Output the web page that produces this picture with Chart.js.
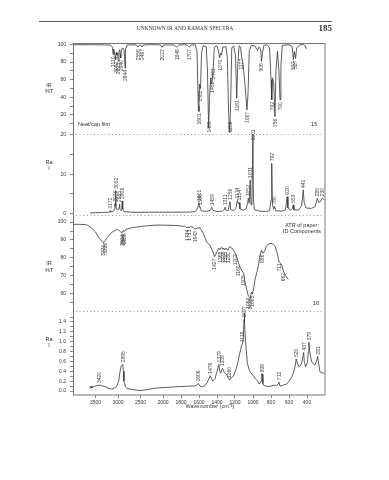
<!DOCTYPE html>
<html><head><meta charset="utf-8">
<script src="https://cdn.jsdelivr.net/npm/chart.js@4"></script>
<style>html,body{margin:0;padding:0;background:#fff}canvas{display:block}</style>
</head><body>
<canvas id="c" width="389" height="480"></canvas>
<script>
// ---------- DATA ----------
const xTickWn = [3500,3000,2500,2000,1800,1600,1400,1200,1000,800,600,400];

const ir15Wn = [4000,3900,3600,3300,3160,3125,3110,3098,3082,3065,3052,3040,3026,3010,2993,2978,2960,2950,2940,2928,2905,2870,2856,2844,2832,2800,2700,2600,2556,2525,2490,2467,2440,2300,2100,2050,2022,1995,1950,1880,1848,1825,1760,1730,1707,1690,1640,1622,1608,1601,1594,1583,1572,1555,1520,1506,1493,1483,1470,1460,1452,1441,1430,1400,1385,1370,1360,1350,1335,1300,1285,1270,1258,1248,1236,1215,1195,1181,1170,1155,1138,1127,1110,1090,1067,1055,1042,1020,980,950,935,915,906,895,880,840,815,800,792,784,770,756,745,728,712,700,690,675,600,565,552,540,527,515,480,440,420,405];
const ir15T  = [99.6,99.8,99.8,99.6,99.2,97,88.6,95,92,86,82.9,91,88,90,81,92,94,89,84.8,92,96,95,88,73.3,95,99.3,99.7,99.6,97,99.3,99,97.3,99.4,99.8,99.6,99.4,96.8,99.3,99.6,99.4,97,99.5,99.7,99.3,97,99.5,99.6,92,30,24,55,50,90,98.5,97.5,70,5,40,62,55,60,75,97,98.5,93,85,90,88,97,97.5,85,20,0,35,96,98.5,88,39,75,98.5,97,86,78,55,25.7,45,92,99,98.5,93,97,95,81,90,99,99.5,96,60,37,62,56,18,70,92,70,37,75,99,99.6,98,83,92,84,96,99.8,99.8,98.5,95];
const ir15Labels = [3110,3052,2993,2940,2844,2556,2467,2022,1848,1707,1601,1583,1493,1452,1441,1370,1258,1181,1127,1067,906,792,756,700,552,527];

const ra15Wn = [3620,3500,3350,3200,3180,3172,3160,3100,3080,3070,3062,3052,3042,3020,2990,2975,2965,2955,2930,2915,2906,2895,2870,2800,2600,2400,2200,2000,1800,1700,1640,1615,1601,1592,1586,1575,1520,1475,1459,1445,1400,1340,1320,1311,1300,1275,1262,1256,1248,1215,1190,1174,1165,1154,1145,1110,1075,1060,1052,1042,1031,1022,1012,1001,995,985,930,860,815,800,792,785,770,760,748,680,640,628,620,612,580,560,553,545,490,460,448,441,432,410,350,310,295,285,270,245,230,218,210];
const ra15I  = [0.15,0.2,0.25,0.35,0.45,0.7,0.45,0.6,1.2,2.5,1.8,5.8,1.4,1.0,1.1,1.6,2.4,1.0,0.8,1.5,3.2,1.2,0.5,0.4,0.3,0.32,0.35,0.33,0.35,0.38,0.5,1.4,2.7,1.5,1.6,0.7,0.55,0.8,1.6,0.8,0.5,0.6,1.0,1.6,0.8,0.8,2.4,3.0,1.0,0.7,1.3,3.3,2.6,2.8,1.2,0.8,1.2,2.8,3.9,2.6,8.5,2.2,2.4,20,3.5,1.0,0.6,0.5,0.7,3.5,12.8,2.5,1.1,1.8,0.7,0.6,0.9,2.8,4.3,1.4,0.9,1.3,2.2,0.9,0.9,2.0,4.5,6.0,2.8,1.4,1.3,1.8,3.0,3.9,2.8,3.2,3.9,3.6,3.4];
const ra15Labels = [3172,3070,3052,2965,2906,1601,1586,1459,1311,1256,1174,1154,1052,1031,1001,792,760,620,553,441,285,230];

const ir16Wn = [4000,3850,3700,3600,3500,3420,3331,3300,3286,3250,3150,3060,3015,2970,2950,2914,2905,2896,2880,2855,2820,2700,2500,2300,2140,1950,1820,1795,1760,1734,1720,1713,1690,1660,1643,1620,1590,1560,1515,1478,1450,1427,1400,1380,1368,1350,1335,1325,1315,1300,1280,1260,1235,1203,1180,1160,1140,1105,1090,1070,1053,1042,1030,1018,1010,1005,990,978,960,941,922,905,896,885,867,850,830,800,770,756,730,711,695,681,670,662,650,630,610];
const ir16T  = [98.7,98.7,98.5,97,94.5,91,88.5,89,89.6,91,94,95.5,95.9,95.2,94.6,94.1,94.6,94.4,95.2,94.9,96,96.8,97.5,98,98.3,98.2,98,97.6,97.7,96.8,97.2,96.9,97.4,96.9,96,96.6,96.8,94.5,89,87,84,80.7,83.5,85.5,84.6,86,84.8,85.5,84.5,85.5,84.3,86.3,85.5,83.2,80.5,77,74.5,71.5,67,62.5,59,58.5,57.6,61,60.5,60.2,64,67.8,71.5,75.2,81.7,84.4,83,82.8,84.4,86.5,87.8,88.2,87.5,86.7,82.6,78,77,76.1,74,72.8,71.5,69.6,68.1];
const ir16Labels = [3331,3286,2914,2896,2855,1734,1713,1643,1427,1368,1335,1315,1280,1203,1160,1105,1053,1030,1005,896,711,662];

const ra16Wn = [3620,3600,3580,3550,3500,3420,3380,3289,3200,3140,3060,3016,2980,2956,2930,2895,2880,2867,2830,2807,2700,2600,2511,2400,2300,2140,2000,1900,1811,1700,1650,1625,1606,1590,1570,1540,1510,1497,1476,1460,1448,1422,1400,1379,1372,1359,1345,1339,1320,1293,1270,1260,1235,1219,1200,1181,1165,1152,1135,1126,1118,1108,1100,1097,1093,1082,1063,1045,1033,1000,978,950,930,910,903,898,890,885,860,830,800,756,735,719,712,700,680,650,626,600,570,545,533,520,505,489,470,455,437,430,415,396,385,379,370,348,330,311,295,281,270,256,235,211];
const ra16I  = [0.05,0.1,0.06,0.09,0.1,0.12,0.11,0.09,0.05,0.04,0.07,0.12,0.22,0.39,0.5,0.54,0.4,0.2,0.08,0.06,0.03,0.02,0.01,0.02,0.04,0.06,0.07,0.08,0.09,0.1,0.1,0.12,0.15,0.1,0.09,0.1,0.17,0.22,0.31,0.25,0.2,0.25,0.4,0.54,0.42,0.36,0.44,0.46,0.38,0.33,0.26,0.22,0.28,0.3,0.38,0.49,0.6,0.73,0.85,0.93,0.95,1.07,1.45,1.58,1.4,0.99,0.56,0.45,0.39,0.32,0.26,0.2,0.14,0.2,0.36,0.34,0.15,0.12,0.1,0.09,0.1,0.12,0.11,0.15,0.18,0.1,0.11,0.13,0.14,0.2,0.28,0.4,0.49,0.65,0.55,0.49,0.52,0.6,0.78,0.6,0.49,0.58,0.8,0.99,0.8,0.59,0.55,0.53,0.6,0.7,0.55,0.39,0.37,0.36];
const ra16Labels = [3420,2895,1606,1476,1379,1339,1260,1118,1097,898,712,520,437,379,281];

const y1Major = [20,40,60,80,100], y1Minor = [10,30,50,70,90];
const y2Major = [0,10,20],          y2Minor = [5,15];
const y3Major = [60,70,80,90,100],  y3Minor = [55,65,75,85,95];
const y4Major = [0,0.2,0.4,0.6,0.8,1.0,1.2,1.4], y4Minor = [0.1,0.3,0.5,0.7,0.9,1.1,1.3,1.5];

// ---------- helpers ----------
const tx  = w => w > 2000 ? 2000 + (w - 2000) / 2 : w;   // axis break at 2000 cm-1
const inv = t => t > 2000 ? 2000 + (t - 2000) * 2 : t;
const pts = (wn, v) => wn.map((w, i) => ({x: tx(w), y: v[i]}));
const FONT = {family: '"Liberation Sans", Arial, sans-serif', size: 5};
const AXC = '#555';

function yScale(min, max, weight, majors, minors, fmt) {
  return {
    type: 'linear', position: 'left', stack: 'panels', stackWeight: weight,
    min, max,
    afterBuildTicks: s => { s.ticks = majors.concat(minors).map(v => ({value: v})); },
    afterFit: s => { s.width = 73; },
    ticks: {autoSkip: false, font: FONT, color: '#333', padding: 4,
            callback: v => majors.some(m => Math.abs(m - v) < 1e-9) ? fmt(v) : ''},
    grid: {drawOnChartArea: false, drawTicks: true, tickLength: 3, color: AXC, lineWidth: 0.7},
    border: {display: false}
  };
}

const lineDs = (data, axis) => ({data, yAxisID: axis, borderColor: '#353535', borderWidth: 0.8,
  pointRadius: 0, tension: 0, fill: false});

function interp(wn, v, w) {
  for (let i = 0; i < wn.length - 1; i++) {
    const a = wn[i], b = wn[i + 1];
    if ((w <= a && w >= b)) { const f = (a - w) / (a - b || 1); return v[i] + f * (v[i + 1] - v[i]); }
  }
  return v[v.length - 1];
}

const peakSets = [
  {axis: 'y1', wn: ir15Wn, v: ir15T, labels: ir15Labels, down: true},
  {axis: 'y2', wn: ra15Wn, v: ra15I, labels: ra15Labels, down: false},
  {axis: 'y3', wn: ir16Wn, v: ir16T, labels: ir16Labels, down: true},
  {axis: 'y4', wn: ra16Wn, v: ra16I, labels: ra16Labels, down: false}
];

const decor = {
  id: 'decor',
  afterDraw(chart) {
    const ctx = chart.ctx, a = chart.chartArea, xs = chart.scales.x;
    ctx.save();
    ctx.strokeStyle = '#666'; ctx.lineWidth = 0.9;
    ctx.strokeRect(a.left + 0.5, a.top + 0.5, a.right - a.left - 0.5, a.bottom - a.top - 0.5);
    ctx.setLineDash([1, 2.6]); ctx.strokeStyle = '#777'; ctx.lineWidth = 0.8;
    ['y2', 'y3', 'y4'].forEach(id => {
      const y = Math.round(chart.scales[id].top) + 0.5;
      ctx.beginPath(); ctx.moveTo(a.left + 3, y); ctx.lineTo(a.right - 1, y); ctx.stroke();
    });
    ctx.setLineDash([]);
    ctx.fillStyle = '#444'; ctx.font = '5px "Liberation Sans", Arial, sans-serif';
    ctx.textBaseline = 'middle';
    peakSets.forEach(ps => {
      const ys = chart.scales[ps.axis];
      ps.labels.forEach(w => {
        const t = String(w), tw = ctx.measureText(t).width;
        const px = xs.getPixelForValue(tx(w)) + 0.5;
        let py = ys.getPixelForValue(interp(ps.wn, ps.v, w));
        ctx.save(); ctx.translate(px, 0); ctx.rotate(-Math.PI / 2);
        if (ps.down) {
          let top = py + 2; if (top + tw > ys.bottom - 1) top = ys.bottom - 1 - tw;
          ctx.textAlign = 'right'; ctx.fillText(t, -top, 0);
        } else {
          let bot = py - 2; if (bot - tw < ys.top - 4) bot = ys.top - 4 + tw;
          ctx.textAlign = 'left'; ctx.fillText(t, -bot, 0);
        }
        ctx.restore();
      });
    });
    ctx.fillStyle = '#333'; ctx.textAlign = 'center'; ctx.textBaseline = 'middle';
    ctx.font = '5.5px "Liberation Sans", Arial, sans-serif';
    [['IR', 85], ['%T', 91], ['Ra', 162], ['I', 168], ['IR', 263], ['%T', 270], ['Ra', 339], ['I', 345]]
      .forEach(([s, y]) => ctx.fillText(s, 49, y));
    ctx.textAlign = 'left';
    ctx.fillText('Neat/cap film', 78, 124);
    ctx.textAlign = 'center';
    ctx.fillText('ATR of paper:', 302, 225);
    ctx.fillText('ID Components', 302, 231);
    ctx.fillText('Wavenumber (cm\u207B\u00B9)', 210, 406);
    ctx.font = '6px "Liberation Sans", Arial, sans-serif';
    ctx.fillText('15', 314, 124);
    ctx.fillText('16', 316, 303);
    ctx.strokeStyle = '#333'; ctx.lineWidth = 0.8;
    ctx.beginPath(); ctx.moveTo(39, 21.5); ctx.lineTo(332, 21.5); ctx.stroke();
    ctx.fillStyle = '#333';
    ctx.font = '5.5px "Liberation Serif", "Times New Roman", serif';
    ctx.fillText('UNKNOWN IR AND RAMAN SPECTRA', 185, 28.5);
    ctx.textAlign = 'right';
    ctx.font = 'bold 9px "Liberation Serif", "Times New Roman", serif';
    ctx.fillText('185', 332, 28.5);
    ctx.restore();
  }
};

new Chart(document.getElementById('c'), {
  type: 'line',
  data: {datasets: [
    lineDs(pts(ir15Wn, ir15T), 'y1'),
    lineDs(pts(ra15Wn, ra15I), 'y2'),
    lineDs(pts(ir16Wn, ir16T), 'y3'),
    lineDs(pts(ra16Wn, ra16I), 'y4')
  ]},
  options: {
    responsive: false, animation: false, parsing: false, normalized: true,
    layout: {padding: {left: 0, top: 43, right: 64, bottom: 65}},
    plugins: {legend: {display: false}, tooltip: {enabled: false}, title: {display: false}},
    scales: {
      x: {type: 'linear', position: 'bottom', min: 200, max: 3000, reverse: true,
          afterBuildTicks: s => { s.ticks = xTickWn.map(w => ({value: tx(w)})); },
          afterFit: s => { s.height = 20; },
          ticks: {autoSkip: false, maxRotation: 0, font: FONT, color: '#333', padding: 2,
                  callback: v => String(Math.round(inv(v)))},
          grid: {drawOnChartArea: false, drawTicks: true, tickLength: 3, color: AXC, lineWidth: 0.7},
          border: {display: false}},
      // stacked panels: the last one listed is placed on top
      y4: yScale(-0.081, 1.633, 84.5, y4Major, y4Minor, v => v.toFixed(1)),
      y3: yScale(50.8, 103.9, 95.5, y3Major, y3Minor, v => String(v)),
      y2: yScale(-0.38, 20.38, 81.5, y2Major, y2Minor, v => String(v)),
      y1: yScale(-1.14, 101.7, 90.5, y1Major, y1Minor, v => String(v))
    }
  },
  plugins: [decor]
});
</script>
</body></html>
